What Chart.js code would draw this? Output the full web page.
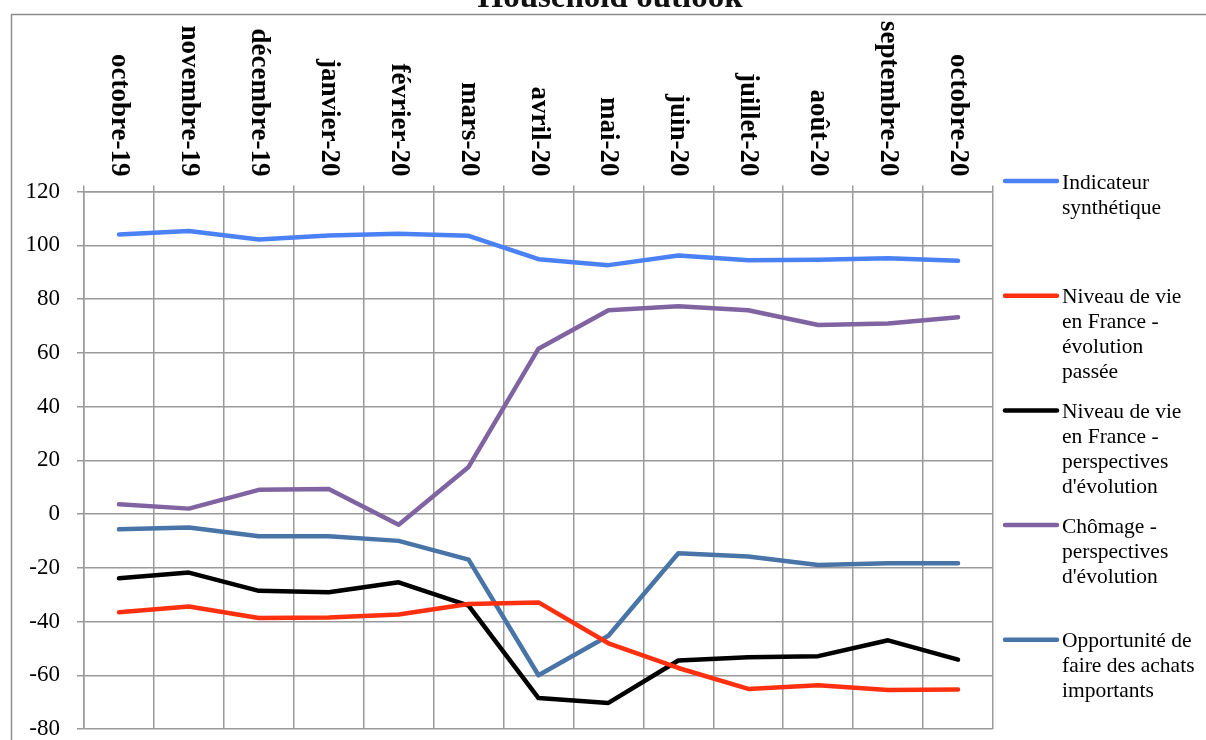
<!DOCTYPE html>
<html>
<head>
<meta charset="utf-8">
<script src="https://cdn.jsdelivr.net/npm/chart.js@4/dist/chart.umd.min.js"></script>
<style>
  html, body { margin: 0; padding: 0; background: #fff; }
  #wrap { width: 1206px; height: 740px; }
</style>
</head>
<body>
<div id="wrap"><canvas id="c" width="1206" height="740"></canvas></div>
<script>
// Months shown along the top axis
const months = ['octobre-19', 'novembre-19', 'décembre-19', 'janvier-20', 'février-20', 'mars-20',
  'avril-20', 'mai-20', 'juin-20', 'juillet-20', 'août-20', 'septembre-20', 'octobre-20'];

// Survey balances per month
const indicateurSynthetique = [104, 105.3, 102.1, 103.6, 104.3, 103.5, 94.8, 92.6, 96.2, 94.4, 94.6, 95.2, 94.2];
const niveauVieEvolPassee   = [-36.6, -34.4, -38.7, -38.5, -37.4, -33.5, -32.9, -48.1, -57.3, -65.1, -63.7, -65.5, -65.3];
const niveauViePerspectives = [-23.9, -21.8, -28.6, -29.1, -25.4, -34.1, -68.5, -70.3, -54.5, -53.3, -52.9, -47.0, -54.2];
const chomagePerspectives   = [3.6, 2.0, 9.0, 9.3, -4.0, 17.5, 61.5, 75.8, 77.3, 75.8, 70.3, 70.9, 73.2];
const opportuniteAchats     = [-5.7, -5.0, -8.3, -8.3, -10.0, -17.0, -60.0, -45.3, -14.6, -15.8, -19.0, -18.3, -18.3];

// Legend names, split over lines as printed
const seriesNames = [
  ['Indicateur', 'synthétique'],
  ['Niveau de vie', 'en France -', 'évolution', 'passée'],
  ['Niveau de vie', 'en France -', 'perspectives', "d'évolution"],
  ['Chômage -', 'perspectives', "d'évolution"],
  ['Opportunité de', 'faire des achats', 'importants']
];
const seriesColors = ['#4A82F6', '#FF3010', '#000000', '#8064A2', '#4874A8'];

// Y axis range
const yMin = -80, yMax = 120, yStep = 20;

const chartTitle = 'Household outlook';
const serif = '"Liberation Serif", "Times New Roman", serif';
const gridColor = '#9A9A9A';

const seriesValues = [indicateurSynthetique, niveauVieEvolPassee, niveauViePerspectives, chomagePerspectives, opportuniteAchats];

const datasets = seriesValues.map((vals, i) => ({
  label: seriesNames[i].join(' '),
  data: vals,
  borderColor: seriesColors[i],
  backgroundColor: seriesColors[i],
  borderWidth: 4.5,
  pointRadius: 0,
  pointHoverRadius: 0,
  tension: 0,
  fill: false,
  borderCapStyle: 'round',
  borderJoinStyle: 'round'
}));

// Frame, title, rotated month labels and the side legend
const decorations = {
  id: 'decorations',
  beforeDraw(chart) {
    const ctx = chart.ctx;
    ctx.save();
    ctx.strokeStyle = '#8E8E8E';
    ctx.lineWidth = 1.5;
    ctx.strokeRect(11.5, 14.5, 1400, 900);
    ctx.restore();
  },
  afterDraw(chart) {
    const ctx = chart.ctx;
    const area = chart.chartArea;
    const xs = chart.scales.x;

    // title, centred over the frame and partly clipped by the page top
    ctx.save();
    ctx.fillStyle = '#111';
    ctx.font = 'bold 33px ' + serif;
    ctx.textAlign = 'center';
    ctx.textBaseline = 'alphabetic';
    ctx.fillText(chartTitle, 610, 7);
    ctx.restore();

    // month labels, reading top to bottom
    ctx.save();
    ctx.fillStyle = '#000';
    ctx.font = 'bold 27px ' + serif;
    ctx.textAlign = 'right';
    ctx.textBaseline = 'middle';
    months.forEach((m, i) => {
      const x = xs.getPixelForValue(i);
      ctx.save();
      ctx.translate(x, area.top - 15);
      ctx.rotate(Math.PI / 2);
      ctx.fillText(m, 0, 0);
      ctx.restore();
    });
    ctx.restore();

    // legend
    ctx.save();
    ctx.font = '21.5px ' + serif;
    ctx.fillStyle = '#000';
    ctx.textAlign = 'left';
    ctx.textBaseline = 'middle';
    const lx0 = area.right + 12, lx1 = area.right + 64, tx = area.right + 69;
    const firstY = area.top - 10.5, gap = 114.7, lineH = 25;
    chart.data.datasets.forEach((ds, i) => {
      const y = firstY + i * gap;
      ctx.strokeStyle = ds.borderColor;
      ctx.lineWidth = 4.5;
      ctx.lineCap = 'round';
      ctx.beginPath();
      ctx.moveTo(lx0, y);
      ctx.lineTo(lx1, y);
      ctx.stroke();
      seriesNames[i].forEach((t, k) => ctx.fillText(t, tx, y + 2 + k * lineH));
    });
    ctx.restore();
  }
};

new Chart(document.getElementById('c'), {
  type: 'line',
  data: { labels: months, datasets },
  options: {
    responsive: false,
    animation: false,
    devicePixelRatio: 1,
    layout: { padding: { top: 185.5, bottom: 11, left: 0, right: 213 } },
    plugins: {
      legend: { display: false },
      title: { display: false },
      tooltip: { enabled: false }
    },
    scales: {
      x: {
        position: 'top',
        offset: true,
        grid: { offset: true, color: gridColor, lineWidth: 1.5, tickLength: 6, drawTicks: true },
        border: { display: true, color: gridColor, width: 1.5 },
        ticks: { display: false },
        afterFit(scale) { scale.height = 6; scale.paddingLeft = 0; scale.paddingRight = 0; }
      },
      y: {
        min: yMin,
        max: yMax,
        grid: { color: gridColor, lineWidth: 1.5, tickLength: 7 },
        border: { display: true, color: gridColor, width: 1.5 },
        ticks: {
          stepSize: yStep,
          padding: 17,
          color: '#000',
          font: { family: serif, size: 23 }
        },
        afterFit(scale) { scale.width = 84; scale.paddingTop = 0; scale.paddingBottom = 0; }
      }
    }
  },
  plugins: [decorations]
});
</script>
</body>
</html>
